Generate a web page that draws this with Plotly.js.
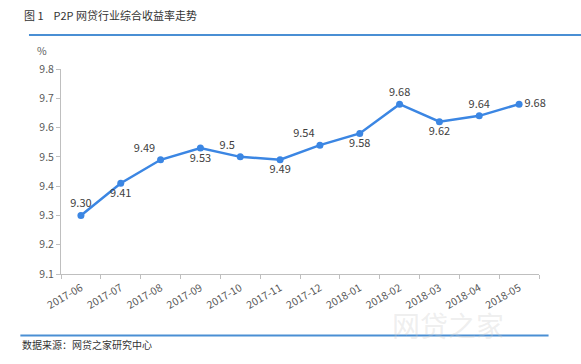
<!DOCTYPE html>
<html>
<head>
<meta charset="utf-8">
<script src="https://cdn.plot.ly/plotly-3.0.1.min.js"></script>
<style>html,body{margin:0;padding:0;background:#fff;}#chart{width:581px;height:364px;}</style>
</head>
<body>
<div id="chart"></div>
<script>
const months = ["2017-06","2017-07","2017-08","2017-09","2017-10","2017-11","2017-12","2018-01","2018-02","2018-03","2018-04","2018-05"];
const rates = [9.30, 9.41, 9.49, 9.53, 9.50, 9.49, 9.54, 9.58, 9.68, 9.62, 9.64, 9.68];
const rateLabels = ["9.30","9.41","9.49","9.53","9.5","9.49","9.54","9.58","9.68","9.62","9.64","9.68"];
const labelPos = ["top center","bottom center","top left","bottom center","top left","bottom center","top left","bottom center","top center","bottom center","top center","middle right"];

const font = "'Noto Sans CJK SC', 'Liberation Sans', sans-serif";

const trace = {
  x: months,
  y: rates,
  type: "scatter",
  mode: "lines+markers+text",
  text: rateLabels,
  textposition: labelPos,
  textfont: {family: font, size: 11, color: "#404040"},
  line: {color: "#3b86e3", width: 2.5},
  marker: {color: "#3b86e3", size: 7},
  cliponaxis: false,
  hoverinfo: "none"
};

const layout = {
  width: 581, height: 364,
  margin: {l: 61, r: 42, t: 69, b: 90},
  paper_bgcolor: "#fff", plot_bgcolor: "#fff",
  showlegend: false,
  font: {family: font, color: "#595959", size: 10},
  xaxis: {
    type: "category",
    range: [-0.5, 11.5],
    showgrid: false, zeroline: false,
    showline: true, linecolor: "#bfbfbf", linewidth: 1,
    ticks: "outside", tickson: "boundaries", ticklen: 4, tickcolor: "#bfbfbf",
    tickangle: -30,
    ticklabelstandoff: 3,
    tickfont: {family: font, size: 10.5, color: "#595959"}
  },
  yaxis: {
    range: [9.1, 9.8],
    dtick: 0.1, tick0: 9.1,
    tickformat: ".1f",
    showgrid: false, zeroline: false,
    showline: true, linecolor: "#bfbfbf", linewidth: 1,
    ticks: "outside", ticklen: 4, tickcolor: "#bfbfbf",
    tickfont: {family: font, size: 10.5, color: "#595959"}
  },
  shapes: [
    {type: "line", xref: "paper", yref: "paper", x0: -0.067, x1: 1.09, y0: 1.166, y1: 1.166, line: {color: "#4a8fd4", width: 2}},
    {type: "line", xref: "paper", yref: "paper", x0: -0.085, x1: 1.02, y0: -0.30, y1: -0.30, line: {color: "#4a8fd4", width: 2}}
  ],
  annotations: [
    {text: "图 1    P2P 网贷行业综合收益率走势", xref: "paper", yref: "paper", x: -0.082, y: 1.263, xanchor: "left", yanchor: "middle", showarrow: false, font: {family: font, size: 11, color: "#333"}},
    {text: "%", xref: "paper", yref: "paper", x: -0.04, y: 1.09, xanchor: "center", yanchor: "middle", showarrow: false, font: {family: font, size: 10.5, color: "#595959"}},
    {text: "数据来源：网贷之家研究中心", xref: "paper", yref: "paper", x: -0.085, y: -0.346, xanchor: "left", yanchor: "middle", showarrow: false, font: {family: font, size: 10, color: "#333"}},
    {text: "网贷之家", xref: "paper", yref: "paper", x: 0.93, y: -0.25, xanchor: "right", yanchor: "middle", showarrow: false, font: {family: font, size: 28, color: "rgba(200,200,200,0.3)"}}
  ]
};

Plotly.newPlot("chart", [trace], layout, {displayModeBar: false, staticPlot: true});
</script>
</body>
</html>
